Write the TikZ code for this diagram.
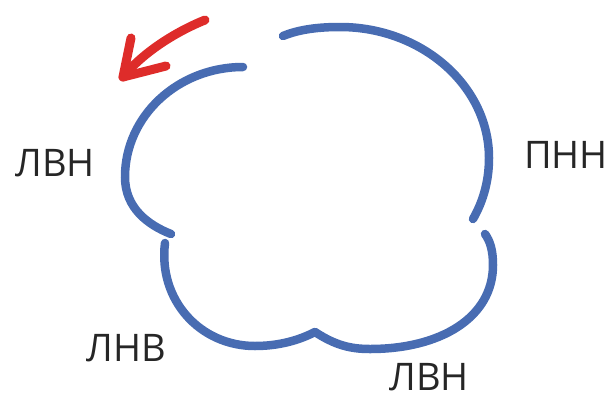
\documentclass[tikz,border=0pt]{standalone}
\usepackage{fontspec}
\setmainfont{Open Sans}
\definecolor{lobeblue}{RGB}{72,108,178}
\definecolor{turnred}{RGB}{222,44,42}
\begin{document}
\begin{tikzpicture}[x=1pt, y=-1pt,
    lobe/.style = {draw=lobeblue, line width=8.5pt, line cap=round},
    turn/.style = {draw=turnred, line width=9pt, line cap=round, line join=round},
    lbl/.style = {inner sep=0pt, font=\fontsize{38}{40}\selectfont, text=black!85}]
	\useasboundingbox (0,0) rectangle (613,400);
	% lobes
	\draw[lobe] (243,67) .. controls (178,67) and (125,116) .. (125,177) .. controls (125,208) and (148,225) .. (171,234);
	\draw[lobe] (165,243) .. controls (158,300) and (200,346) .. (255,346) .. controls (285,346) and (305,337) .. (315,332);
	\draw[lobe] (315,332) .. controls (335,345) and (350,349) .. (370,349) .. controls (440,349) and (493,318) .. (493,265) .. controls (493,250) and (490,241) .. (485,234);
	\draw[lobe] (283,36) .. controls (300,29) and (320,27) .. (340,27) .. controls (422,27) and (489,86) .. (489,158) .. controls (489,185) and (481,205) .. (473,219);
	% turning arrow
	\coordinate (tail) at (205,20);
	\coordinate (tip) at (123,77);
	\coordinate (barbup) at (131,38);
	\coordinate (barbdown) at (166,66);
	\draw[turn] (tail) .. controls (180,30) and (145,50) .. (tip);
	\draw[turn] (barbup) -- (tip) -- (barbdown);
	% labels
	\node[lbl] (lvn1) at (55,163) {ЛВН};
	\node[lbl] (pnn) at (566,155) {ПНН};
	\node[lbl] (lnv) at (126,348) {ЛНВ};
	\node[lbl] (lvn2) at (429,377) {ЛВН};
\end{tikzpicture}
\end{document}
